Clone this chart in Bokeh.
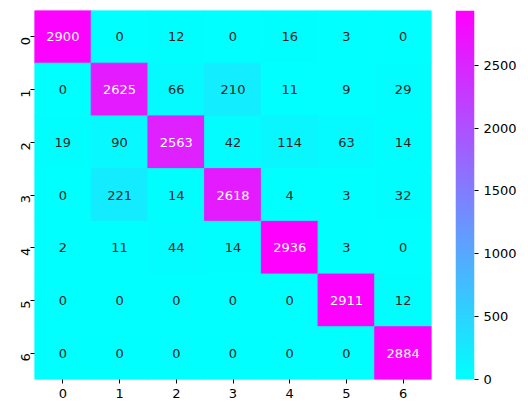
import numpy as np
from bokeh.plotting import figure
from bokeh.layouts import row
from bokeh.models import ColumnDataSource, LinearColorMapper, FixedTicker
from bokeh.transform import transform
from bokeh.core.properties import value
from bokeh.embed import file_html
from bokeh.resources import INLINE

labels = ["0", "1", "2", "3", "4", "5", "6"]
row0 = [2900, 0, 12, 0, 16, 3, 0]
row1 = [0, 2625, 66, 210, 11, 9, 29]
row2 = [19, 90, 2563, 42, 114, 63, 14]
row3 = [0, 221, 14, 2618, 4, 3, 32]
row4 = [2, 11, 44, 14, 2936, 3, 0]
row5 = [0, 0, 0, 0, 0, 2911, 12]
row6 = [0, 0, 0, 0, 0, 0, 2884]
matrix = [row0, row1, row2, row3, row4, row5, row6]
cbar_ticks = [0, 500, 1000, 1500, 2000, 2500]

vmin = 0
vmax = max(max(r) for r in matrix)

# matplotlib "cool" colormap
palette = []
for i in range(256):
    t = i / 255
    palette.append("#%02x%02x%02x" % (round(t * 255), round((1 - t) * 255), 255))


def lin(c):
    return c / 12.92 if c <= 0.03928 else ((c + 0.055) / 1.055) ** 2.4


xs, ys, vs, txt, tcol = [], [], [], [], []
for i, r in enumerate(matrix):
    for j, v in enumerate(r):
        xs.append(labels[j])
        ys.append(labels[i])
        vs.append(v)
        txt.append(str(v))
        t = (v - vmin) / (vmax - vmin)
        lum = 0.2126 * lin(t) + 0.7152 * lin(1 - t) + 0.0722 * lin(1.0)
        tcol.append("#262626" if lum > 0.408 else "#ffffff")

src = ColumnDataSource(dict(x=xs, y=ys, v=vs, txt=txt, tc=tcol))
mapper = LinearColorMapper(palette=palette, low=vmin, high=vmax)


def style_axis(ax):
    ax.axis_line_color = None
    ax.major_tick_line_color = "black"
    ax.major_tick_in = 0
    ax.major_tick_out = 4
    ax.minor_tick_line_color = None
    ax.major_label_text_font = "DejaVu Sans"
    ax.major_label_text_font_size = "13px"
    ax.major_label_text_color = "black"
    ax.major_label_standoff = 5


p = figure(frame_width=397, frame_height=369, x_range=labels, y_range=list(reversed(labels)),
           output_backend="svg", toolbar_location=None,
           min_border_left=34, min_border_top=10, min_border_bottom=34, min_border_right=12)
p.rect(x="x", y="y", width=1, height=1, source=src,
       fill_color=transform("v", mapper), line_color=transform("v", mapper), line_width=1)
p.text(x="x", y="y", text="txt", source=src, text_align="center", text_baseline="middle",
       text_color="tc", text_font=value("DejaVu Sans"), text_font_size="13px")
p.grid.visible = False
p.outline_line_color = None
style_axis(p.xaxis)
style_axis(p.yaxis)
p.yaxis.major_label_orientation = 1.5708

# colour bar as its own narrow figure
grad = np.linspace(vmin, vmax, 256).reshape(256, 1)
cb = figure(frame_width=19, frame_height=369, x_range=(0, 1), y_range=(vmin, vmax),
            output_backend="svg", toolbar_location=None, x_axis_location=None,
            y_axis_location="right",
            min_border_left=12, min_border_top=10, min_border_bottom=34, min_border_right=54)
cb.image(image=[grad], x=0, y=vmin, dw=1, dh=vmax - vmin, color_mapper=mapper)
cb.grid.visible = False
cb.outline_line_color = None
cb.yaxis.ticker = FixedTicker(ticks=cbar_ticks)
style_axis(cb.yaxis)

layout = row(p, cb)
open("out.html", "w").write(file_html(layout, INLINE))
